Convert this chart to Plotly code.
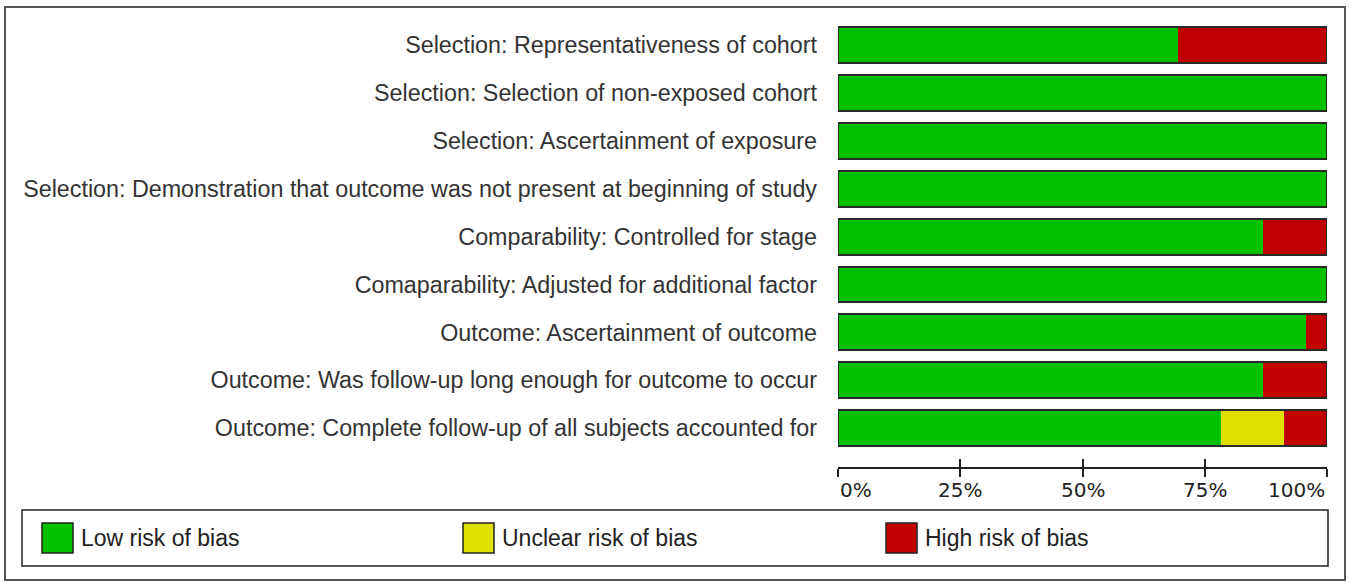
import plotly.graph_objects as go

categories = [
    "Selection: Representativeness of cohort",
    "Selection: Selection of non-exposed cohort",
    "Selection: Ascertainment of exposure",
    "Selection: Demonstration that outcome was not present at beginning of study",
    "Comparability: Controlled for stage",
    "Comaparability: Adjusted for additional factor",
    "Outcome: Ascertainment of outcome",
    "Outcome: Was follow-up long enough for outcome to occur",
    "Outcome: Complete follow-up of all subjects accounted for",
]
low = [69.6, 100, 100, 100, 87.0, 100, 95.7, 87.0, 78.3]
unclear = [0, 0, 0, 0, 0, 0, 0, 0, 13.0]
high = [30.4, 0, 0, 0, 13.0, 0, 4.3, 13.0, 8.7]
series_names = ["Low risk of bias", "Unclear risk of bias", "High risk of bias"]
colors = ["#00C000", "#E0E000", "#C00000"]
tick_vals = [0, 25, 50, 75, 100]
tick_text = ["0%", "25%", "50%", "75%", "100%"]

W, H = 1351, 585
def px(x):
    return x / W
def py(y):
    return 1 - y / H

rows = list(range(len(categories)))
fig = go.Figure()
for name, vals, col in zip(series_names, [low, unclear, high], colors):
    fig.add_trace(go.Bar(y=rows, x=vals, orientation="h", name=name,
                         marker=dict(color=col, line=dict(width=0)),
                         width=0.75, showlegend=False, hoverinfo="x+name"))
# outline of the whole bar
totals = [a + b + c for a, b, c in zip(low, unclear, high)]
fig.add_trace(go.Bar(y=rows, x=totals, orientation="h", xaxis="x2",
                     marker=dict(color="rgba(0,0,0,0)", line=dict(color="#2a2a2a", width=2)),
                     width=0.75, showlegend=False, hoverinfo="skip"))

x0, x1 = 838, 1327
ytop, ybot = 21, 467
fig.update_layout(
    width=W, height=H, margin=dict(l=0, r=0, t=0, b=0),
    paper_bgcolor="white", plot_bgcolor="white", barmode="stack",
    font=dict(family="Liberation Sans, Arial", color="#333333"),
    xaxis=dict(domain=[px(x0), px(x1)], range=[0, 100], showgrid=False, zeroline=False,
               showline=True, linecolor="#222", linewidth=1.5, ticks="outside", ticklen=8,
               tickwidth=1.5, tickcolor="#222", tickvals=tick_vals, showticklabels=False,
               fixedrange=True),
    xaxis2=dict(overlaying="x", anchor="y", range=[0, 100], showgrid=False, zeroline=False,
                showline=False, ticks="inside", ticklen=8, tickwidth=1.5, tickcolor="#222",
                tickvals=tick_vals, showticklabels=False, side="bottom"),
    yaxis=dict(domain=[py(ybot), py(ytop)], range=[8.81, -0.5], showgrid=False, zeroline=False,
               tickvals=rows, ticktext=categories, ticks="", ticklabelstandoff=20,
               tickfont=dict(size=23.3, color="#333333", family="Liberation Sans, Arial")),
)

# x tick labels
for v, t in zip(tick_vals, tick_text):
    anchor = "left" if v == 0 else ("right" if v == 100 else "center")
    fig.add_annotation(x=v, y=py(ybot) - 9 / H, xref="x", yref="paper", yanchor="top",
                       text=t, showarrow=False, xanchor=anchor,
                       font=dict(size=20, color="#222", family="DejaVu Sans"))

# outer frame
fig.add_shape(type="rect", xref="paper", yref="paper", x0=px(5), x1=px(1345), y0=py(580), y1=py(7),
              line=dict(color="#555", width=2), fillcolor="rgba(0,0,0,0)")
# legend box
fig.add_shape(type="rect", xref="paper", yref="paper", x0=px(22), x1=px(1328), y0=py(566), y1=py(510),
              line=dict(color="#222", width=1.5), fillcolor="rgba(0,0,0,0)")
leg_x = [42, 463, 886]
for lx, name, col in zip(leg_x, series_names, colors):
    fig.add_shape(type="rect", xref="paper", yref="paper", x0=px(lx), x1=px(lx + 31),
                  y0=py(553), y1=py(523), line=dict(color="#222", width=1.5), fillcolor=col)
    fig.add_annotation(x=px(lx + 37), y=py(538), xref="paper", yref="paper", xanchor="left",
                       yanchor="middle", text=name, showarrow=False,
                       font=dict(size=23, color="#222", family="Liberation Sans, Arial"))

fig.write_html("out.html", config={"displayModeBar": False},
               post_script="document.body.style.margin='0';document.body.style.padding='0';")
